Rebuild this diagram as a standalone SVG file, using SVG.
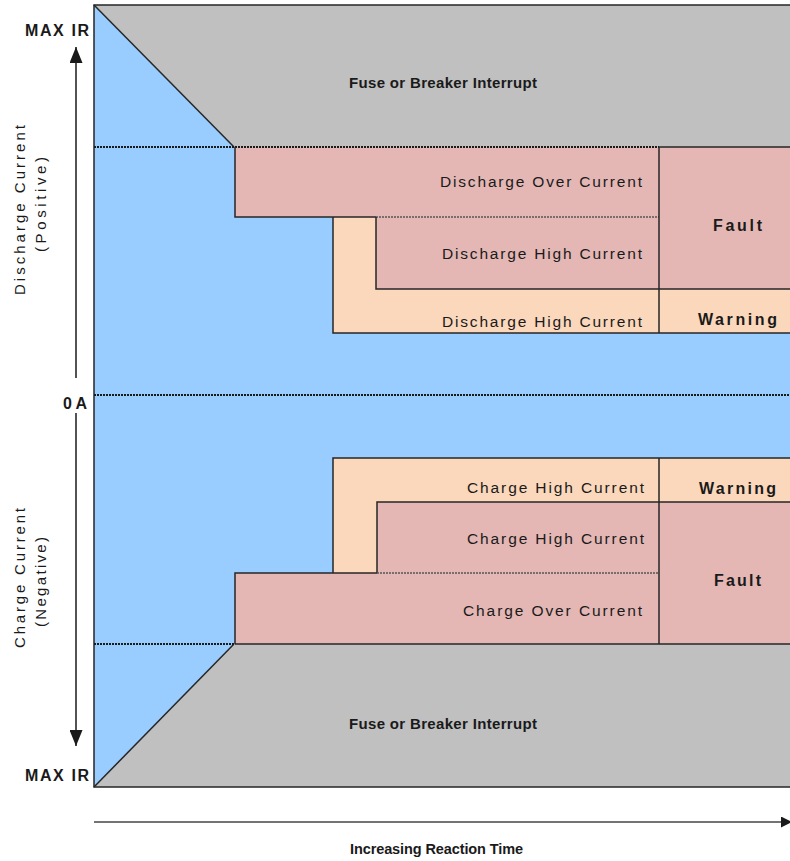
<svg xmlns="http://www.w3.org/2000/svg" width="790" height="861" viewBox="0 0 790 861">
<defs>
<style>
.lbl{font-family:"Liberation Sans",Arial,sans-serif;font-size:15.5px;fill:#1a1a1a}
.b{font-weight:bold;font-size:16px}
.ax{font-size:15px}
.edge{stroke:#262626;stroke-width:1.5;fill:none}
.dot{stroke:#1a1a1a;stroke-width:2;stroke-dasharray:2 1;fill:none}
.axis{stroke:#1a1a1a;stroke-width:1.5;fill:none}
.blue{fill:#99CCFF}
.pink{fill:#E4B7B5}
.peach{fill:#FBD8BC}
.gray{fill:#C0C0C0}
</style>
<marker id="ahv" viewBox="0 0 16 13" refX="16" refY="6.5" markerWidth="16" markerHeight="13" markerUnits="userSpaceOnUse" orient="auto">
<path d="M0,0 L16,6.5 L0,13 Z" fill="#1a1a1a"/>
</marker>
<marker id="ahh" viewBox="0 0 11 11" refX="11" refY="5.5" markerWidth="11" markerHeight="11" markerUnits="userSpaceOnUse" orient="auto">
<path d="M0,0 L11,5.5 L0,11 Z" fill="#1a1a1a"/>
</marker>
</defs>
<rect x="0" y="0" width="790" height="861" fill="#ffffff"/>

<g id="normal-operation">
<rect class="blue" x="94" y="5" width="700" height="782"/>
</g>

<g id="fuse-top">
<polygon class="gray" points="94,5 794,5 794,147 234,147"/>
<text class="lbl b" x="349" y="88" textLength="188" lengthAdjust="spacing" style="font-size:15px">Fuse or Breaker Interrupt</text>
</g>

<g id="fuse-bottom">
<polygon class="gray" points="234,644 794,644 794,787 94,787"/>
<text class="lbl b" x="349" y="729" textLength="188" lengthAdjust="spacing" style="font-size:15px">Fuse or Breaker Interrupt</text>
</g>

<g id="discharge-high-warning">
<rect class="peach" x="333" y="217" width="326" height="116"/>
<text class="lbl" x="442" y="327" textLength="200" lengthAdjust="spacing">Discharge High Current</text>
</g>
<g id="discharge-over-current">
<rect class="pink" x="235" y="147" width="424" height="70"/>
<text class="lbl" x="440" y="187" textLength="202" lengthAdjust="spacing">Discharge Over Current</text>
</g>
<g id="discharge-high-fault">
<rect class="pink" x="376" y="217" width="283" height="72"/>
<text class="lbl" x="442" y="259" textLength="200" lengthAdjust="spacing">Discharge High Current</text>
</g>
<g id="discharge-fault">
<rect class="pink" x="659" y="147" width="135" height="142"/>
<text class="lbl b" x="713" y="231" textLength="49" lengthAdjust="spacing">Fault</text>
</g>
<g id="discharge-warning">
<rect class="peach" x="659" y="289" width="135" height="44"/>
<text class="lbl b" x="698" y="325" textLength="79" lengthAdjust="spacing">Warning</text>
</g>

<g id="charge-high-warning">
<rect class="peach" x="333" y="458" width="326" height="115"/>
<text class="lbl" x="467" y="493" textLength="177" lengthAdjust="spacing">Charge High Current</text>
</g>
<g id="charge-high-fault">
<rect class="pink" x="377" y="502" width="282" height="71"/>
<text class="lbl" x="467" y="544" textLength="177" lengthAdjust="spacing">Charge High Current</text>
</g>
<g id="charge-over-current">
<rect class="pink" x="235" y="573" width="424" height="71"/>
<text class="lbl" x="463" y="616" textLength="179" lengthAdjust="spacing">Charge Over Current</text>
</g>
<g id="charge-warning">
<rect class="peach" x="659" y="458" width="135" height="44"/>
<text class="lbl b" x="699" y="494" textLength="77" lengthAdjust="spacing">Warning</text>
</g>
<g id="charge-fault">
<rect class="pink" x="659" y="502" width="135" height="142"/>
<text class="lbl b" x="714" y="586" textLength="47" lengthAdjust="spacing">Fault</text>
</g>

<g id="connectors">
<path class="edge" d="M794,5 H94 V787 H794"/>
<path class="edge" d="M94,5 L234,147"/>
<path class="edge" d="M94,787 L234,644"/>
<path class="dot" d="M94,147 H659"/>
<path class="edge" d="M659,147 H794"/>
<path class="edge" d="M235,147 V217 H376"/>
<path class="dot" d="M376,217 H659" style="stroke:#555;stroke-width:1.5"/>
<path class="edge" d="M333,217 V333 H794"/>
<path class="edge" d="M376,217 V289 H794"/>
<path class="edge" d="M659,147 V333"/>
<path class="dot" d="M94,395 H794"/>
<path class="edge" d="M333,573 V458 H794"/>
<path class="edge" d="M377,573 V502 H794"/>
<path class="edge" d="M235,644 V573 H377"/>
<path class="dot" d="M377,573 H659" style="stroke:#555;stroke-width:1.5"/>
<path class="edge" d="M659,458 V644"/>
<path class="dot" d="M94,644 H235"/>
<path class="edge" d="M235,644 H794"/>
<path class="axis" d="M76,378 V47" marker-end="url(#ahv)"/>
<path class="axis" d="M76,413 V746" marker-end="url(#ahv)"/>
<path class="axis" d="M94,822 H792" style="stroke:#444" marker-end="url(#ahh)"/>
</g>

<g id="axis-labels">
<text class="lbl b" x="25" y="36" textLength="64" lengthAdjust="spacing">MAX IR</text>
<text class="lbl b" x="25" y="781" textLength="64" lengthAdjust="spacing">MAX IR</text>
<text class="lbl b" x="63" y="409" textLength="24" lengthAdjust="spacing">0A</text>
<text class="lbl b" x="350" y="854" textLength="173" lengthAdjust="spacing" style="font-size:14.5px">Increasing Reaction Time</text>
<text class="lbl ax" transform="translate(25,210) rotate(-90)" x="-85" y="0" textLength="170" lengthAdjust="spacing">Discharge Current</text>
<text class="lbl ax" transform="translate(46,205) rotate(-90)" x="-47" y="0" textLength="95" lengthAdjust="spacing">(Positive)</text>
<text class="lbl ax" transform="translate(25,578) rotate(-90)" x="-70" y="0" textLength="140" lengthAdjust="spacing">Charge Current</text>
<text class="lbl ax" transform="translate(46,582) rotate(-90)" x="-45" y="0" textLength="90" lengthAdjust="spacing">(Negative)</text>
</g>
</svg>
